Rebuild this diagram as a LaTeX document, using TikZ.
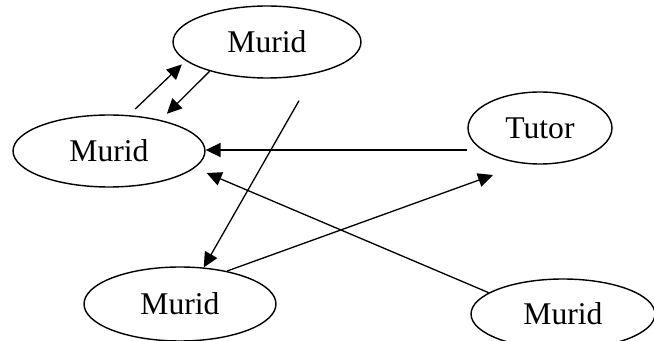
\documentclass[tikz,border=0pt]{standalone}
\usepackage{fontspec}
\setmainfont{Liberation Serif}
\usetikzlibrary{shapes.geometric,arrows.meta}
\tikzset{
  actor/.style={draw,ellipse,line width=0.8pt,inner sep=0pt,
               minimum height=1.44cm,font=\fontsize{18}{21}\selectfont},
  link/.style={-{Triangle[length=8.5pt,width=8pt]},line width=0.75pt},
}
\begin{document}
\begin{tikzpicture}[x=0.02cm,y=-0.02cm]
  \useasboundingbox (0,0) rectangle (654,341);
  \node[actor,minimum width=3.76cm] (mtop) at (267,42) {Murid};
  \node[actor,minimum width=3.84cm] (mleft) at (109,151) {Murid};
  \node[actor,minimum width=2.88cm] (tutor) at (540,128) {Tutor};
  \node[actor,minimum width=3.84cm,minimum height=1.48cm] (mbot) at (180,304) {Murid};
  \node[actor,minimum width=3.68cm,minimum height=1.4cm] (mright) at (563,314) {Murid};
  % two-way link between the upper Murid
  \draw[link,shorten <=5pt,shorten >=3pt] (mleft.61) -- (mtop.193);
  \draw[link,shorten >=5pt] (mtop.207) -- (mleft.31);
  % Tutor to Murid
  \draw[link] ([shift={(0,22)}]tutor.west) -- ([shift={(0,-1)}]mleft.east);
  % crossing links
  \draw[link] ([shift={(32,22)}]mtop.south) -- (mbot.57);
  \draw[link] (mbot.35) -- ([shift={(-47,47)}]tutor.center);
  \draw[link] (mright.164) -- ([shift={(1,22)}]mleft.east);
\end{tikzpicture}
\end{document}
